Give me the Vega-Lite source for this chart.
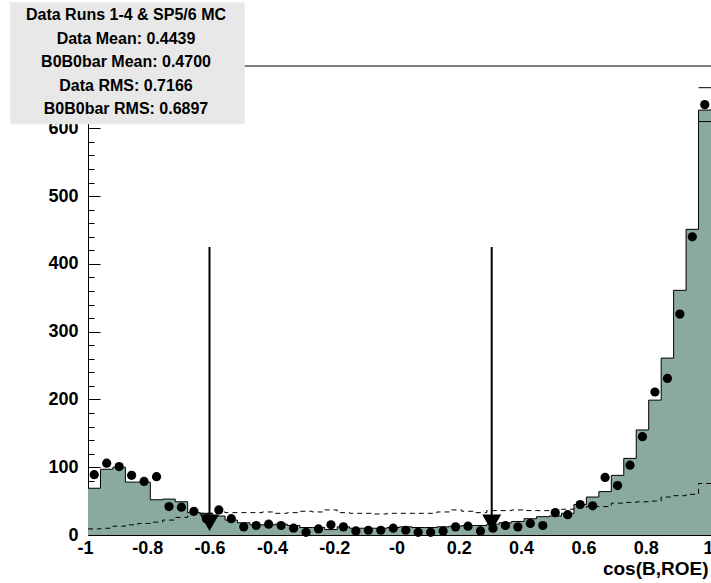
{
  "$schema": "https://vega.github.io/schema/vega-lite/v6.json",
  "width": 623,
  "height": 469,
  "autosize": {"type": "none"},
  "padding": {"left": 88, "top": 66, "right": 0, "bottom": 48},
  "background": "white",
  "datasets": {
    "hist": [
      {"x": -1, "mc": 69, "bkg": 9},
      {"x": -0.96, "mc": 97, "bkg": 10},
      {"x": -0.92, "mc": 100, "bkg": 13},
      {"x": -0.88, "mc": 78, "bkg": 15},
      {"x": -0.84, "mc": 78, "bkg": 17},
      {"x": -0.8, "mc": 52, "bkg": 19},
      {"x": -0.76, "mc": 53, "bkg": 22},
      {"x": -0.72, "mc": 49, "bkg": 26},
      {"x": -0.68, "mc": 33, "bkg": 30},
      {"x": -0.64, "mc": 32, "bkg": 32},
      {"x": -0.6, "mc": 28, "bkg": 34},
      {"x": -0.56, "mc": 22, "bkg": 33},
      {"x": -0.52, "mc": 18, "bkg": 33},
      {"x": -0.48, "mc": 15, "bkg": 33},
      {"x": -0.44, "mc": 15, "bkg": 34},
      {"x": -0.4, "mc": 16, "bkg": 32},
      {"x": -0.36, "mc": 14, "bkg": 33},
      {"x": -0.32, "mc": 11, "bkg": 35},
      {"x": -0.28, "mc": 11, "bkg": 34},
      {"x": -0.24, "mc": 8, "bkg": 37},
      {"x": -0.2, "mc": 12, "bkg": 33},
      {"x": -0.16, "mc": 10, "bkg": 32},
      {"x": -0.12, "mc": 10, "bkg": 32},
      {"x": -0.08, "mc": 10, "bkg": 31},
      {"x": -0.04, "mc": 11, "bkg": 32},
      {"x": 0, "mc": 12, "bkg": 32},
      {"x": 0.04, "mc": 11, "bkg": 32},
      {"x": 0.08, "mc": 11, "bkg": 32},
      {"x": 0.12, "mc": 12, "bkg": 34},
      {"x": 0.16, "mc": 13, "bkg": 37},
      {"x": 0.2, "mc": 14, "bkg": 35},
      {"x": 0.24, "mc": 14, "bkg": 33},
      {"x": 0.28, "mc": 16, "bkg": 36},
      {"x": 0.32, "mc": 18, "bkg": 36},
      {"x": 0.36, "mc": 20, "bkg": 37},
      {"x": 0.4, "mc": 24, "bkg": 36},
      {"x": 0.44, "mc": 27, "bkg": 36},
      {"x": 0.48, "mc": 28, "bkg": 37},
      {"x": 0.52, "mc": 32, "bkg": 38},
      {"x": 0.56, "mc": 45, "bkg": 40},
      {"x": 0.6, "mc": 56, "bkg": 42},
      {"x": 0.64, "mc": 64, "bkg": 42},
      {"x": 0.68, "mc": 88, "bkg": 47},
      {"x": 0.72, "mc": 113, "bkg": 48},
      {"x": 0.76, "mc": 155, "bkg": 49},
      {"x": 0.8, "mc": 199, "bkg": 50},
      {"x": 0.84, "mc": 261, "bkg": 56},
      {"x": 0.88, "mc": 361, "bkg": 58},
      {"x": 0.92, "mc": 451, "bkg": 60},
      {"x": 0.96, "mc": 627, "bkg": 76},
      {"x": 1, "mc": 627, "bkg": 76}
    ],
    "points": [
      {"x": -0.98, "n": 89}, {"x": -0.94, "n": 106}, {"x": -0.9, "n": 101},
      {"x": -0.86, "n": 88}, {"x": -0.82, "n": 79}, {"x": -0.78, "n": 86},
      {"x": -0.74, "n": 42}, {"x": -0.7, "n": 41}, {"x": -0.66, "n": 35},
      {"x": -0.62, "n": 24}, {"x": -0.58, "n": 37}, {"x": -0.54, "n": 24},
      {"x": -0.5, "n": 12}, {"x": -0.46, "n": 14}, {"x": -0.42, "n": 16},
      {"x": -0.38, "n": 14}, {"x": -0.34, "n": 10}, {"x": -0.3, "n": 4},
      {"x": -0.26, "n": 9}, {"x": -0.22, "n": 15}, {"x": -0.18, "n": 12},
      {"x": -0.14, "n": 6}, {"x": -0.1, "n": 7}, {"x": -0.06, "n": 7},
      {"x": -0.02, "n": 10}, {"x": 0.02, "n": 7}, {"x": 0.06, "n": 4},
      {"x": 0.1, "n": 4}, {"x": 0.14, "n": 6}, {"x": 0.18, "n": 12},
      {"x": 0.22, "n": 13}, {"x": 0.26, "n": 6}, {"x": 0.3, "n": 10},
      {"x": 0.34, "n": 14}, {"x": 0.38, "n": 12}, {"x": 0.42, "n": 17},
      {"x": 0.46, "n": 14}, {"x": 0.5, "n": 33}, {"x": 0.54, "n": 30},
      {"x": 0.58, "n": 45}, {"x": 0.62, "n": 43}, {"x": 0.66, "n": 85},
      {"x": 0.7, "n": 73}, {"x": 0.74, "n": 103}, {"x": 0.78, "n": 145},
      {"x": 0.82, "n": 211}, {"x": 0.86, "n": 231}, {"x": 0.9, "n": 326},
      {"x": 0.94, "n": 440}, {"x": 0.98, "n": 635}
    ],
    "caps": [
      {"x0": 0.96, "x1": 1, "v": 660},
      {"x0": 0.96, "x1": 1, "v": 610}
    ],
    "cuts": [{"x": -0.61}, {"x": 0.296}]
  },
  "layer": [
    {
      "data": {"name": "hist"},
      "mark": {"type": "area", "interpolate": "step-after", "color": "#8aa9a1"},
      "encoding": {
        "x": {
          "field": "x", "type": "quantitative",
          "scale": {"domain": [-1, 1], "nice": false, "zero": false},
          "axis": {
            "values": [-1, -0.8, -0.6, -0.4, -0.2, 0, 0.2, 0.4, 0.6, 0.8, 1],
            "tickCount": 20,
            "labelExpr": "datum.value == 0 ? '-0' : (datum.value < 0 ? '-' + format(-datum.value, '.1~f') : format(datum.value, '.1~f'))",
            "ticks": false,
            "grid": false,
            "zindex": 0,
            "labelFlush": false,
            "labelOverlap": false,
            "labelOffset": -3,
            "labelPadding": 4,
            "labelFont": "Liberation Sans",
            "labelFontWeight": "bold",
            "labelFontSize": 18,
            "labelColor": "black",
            "domainColor": "black",
            "title": "cos(B,ROE)",
            "titleFont": "Liberation Sans",
            "titleFontWeight": "bold",
            "titleFontSize": 19,
            "titleColor": "black",
            "titleAnchor": "end",
            "titleAlign": "right",
            "titleBaseline": "alphabetic",
            "titleX": 620,
            "titleY": 39
          }
        },
        "y": {
          "field": "mc", "type": "quantitative",
          "scale": {"domain": [0, 692], "nice": false},
          "axis": {
            "values": [0, 20, 40, 60, 80, 100, 120, 140, 160, 180, 200, 220, 240, 260, 280, 300, 320, 340, 360, 380, 400, 420, 440, 460, 480, 500, 520, 540, 560, 580, 600, 620, 640, 660, 680],
            "tickCount": 50,
            "labelExpr": "datum.value % 100 === 0 ? datum.label : ''",
            "tickSize": {"condition": {"test": "datum.value % 100 === 0", "value": -12}, "value": -6},
            "tickColor": "black",
            "labelPadding": 22,
            "labelOverlap": false,
            "zindex": 0,
            "grid": false,
            "title": null,
            "labelFont": "Liberation Sans",
            "labelFontWeight": "bold",
            "labelFontSize": 18,
            "labelColor": "black",
            "labelBaseline": "middle",
            "domainColor": "black"
          }
        }
      }
    },
    {
      "data": {"name": "hist"},
      "mark": {"type": "line", "interpolate": "step-after", "color": "black", "strokeWidth": 1},
      "encoding": {
        "x": {"field": "x", "type": "quantitative"},
        "y": {"field": "mc", "type": "quantitative"}
      }
    },
    {
      "data": {"name": "hist"},
      "mark": {"type": "line", "interpolate": "step-after", "color": "black", "strokeWidth": 1, "strokeDash": [5, 4]},
      "encoding": {
        "x": {"field": "x", "type": "quantitative"},
        "y": {"field": "bkg", "type": "quantitative"}
      }
    },
    {
      "data": {"name": "points"},
      "mark": {"type": "circle", "color": "black", "size": 85, "opacity": 1},
      "encoding": {
        "x": {"field": "x", "type": "quantitative"},
        "y": {"field": "n", "type": "quantitative"}
      }
    },
    {
      "data": {"name": "caps"},
      "mark": {"type": "rule", "color": "black", "strokeWidth": 1},
      "encoding": {
        "x": {"field": "x0", "type": "quantitative"},
        "x2": {"field": "x1"},
        "y": {"field": "v", "type": "quantitative"}
      }
    },
    {
      "data": {"name": "cuts"},
      "mark": {"type": "rule", "color": "black", "strokeWidth": 2},
      "encoding": {
        "x": {"field": "x", "type": "quantitative"},
        "y": {"datum": 18},
        "y2": {"datum": 425}
      }
    },
    {
      "data": {"name": "cuts"},
      "mark": {"type": "point", "shape": "triangle-down", "filled": true, "color": "black", "size": 361, "opacity": 1},
      "encoding": {
        "x": {"field": "x", "type": "quantitative"},
        "y": {"datum": 18}
      }
    },
    {
      "data": {"values": [{}]},
      "mark": {"type": "rule", "color": "black", "strokeWidth": 1},
      "encoding": {
        "x": {"datum": -1},
        "x2": {"datum": 1},
        "y": {"datum": 692}
      }
    },
    {
      "data": {"values": [{}]},
      "mark": {"type": "rect", "color": "#e8e8e8"},
      "encoding": {
        "x": {"datum": -1.25},
        "x2": {"datum": -0.497},
        "y": {"datum": 786},
        "y2": {"datum": 606}
      }
    },
    {
      "data": {"values": [{}]},
      "mark": {
        "type": "text",
        "text": ["Data Runs 1-4 & SP5/6 MC", "Data Mean: 0.4439", "B0B0bar Mean: 0.4700", "Data RMS: 0.7166", "B0B0bar RMS: 0.6897"],
        "font": "Liberation Sans",
        "fontWeight": "bold",
        "fontSize": 16,
        "lineHeight": 23.5,
        "align": "center",
        "baseline": "middle",
        "color": "black"
      },
      "encoding": {
        "x": {"datum": -0.878},
        "y": {"datum": 767}
      }
    }
  ],
  "config": {
    "view": {"stroke": null}
  }
}
